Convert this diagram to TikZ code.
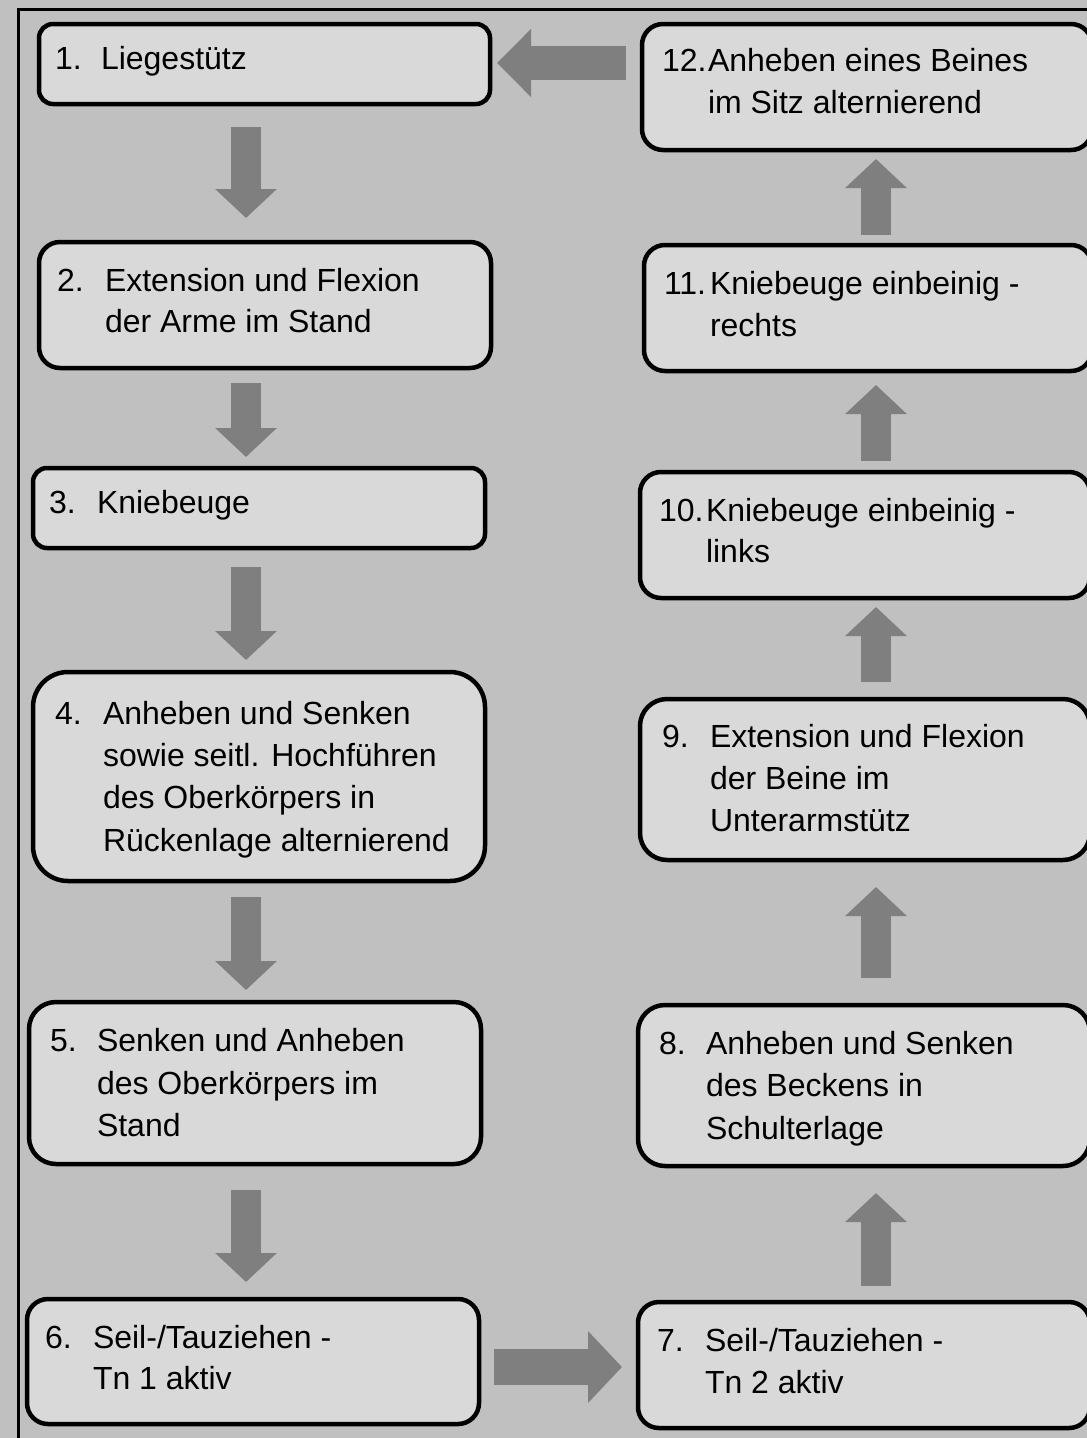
\documentclass[tikz,border=0pt]{standalone}
\usepackage{fontspec}
\setmainfont{Liberation Sans}
\usetikzlibrary{arrows.meta,fit}
\definecolor{bggray}{RGB}{192,192,192}
\definecolor{boxgray}{RGB}{217,217,217}
\definecolor{arrgray}{RGB}{127,127,127}
\tikzset{
  stepbox/.style={draw=black, line width=4.5pt, fill=boxgray, inner sep=0pt, outer sep=0pt},
  lbl/.style={anchor=base west, inner sep=0pt, outer sep=0pt, font=\fontsize{32}{40}\selectfont},
  vblock/.style={draw=arrgray, line width=30pt, line cap=butt, -{Triangle[width=60pt,length=29pt]}},
  hblockL/.style={draw=arrgray, line width=34pt, line cap=butt, -{Triangle[width=66pt,length=34pt]}},
  hblockR/.style={draw=arrgray, line width=36pt, line cap=butt, -{Triangle[width=70pt,length=34pt]}},
}
\begin{document}
\begin{tikzpicture}[x=1pt,y=-1pt]
\useasboundingbox (0,0) rectangle (1087,1438);
\clip (0,0) rectangle (1087,1438);
\fill[bggray] (0,0) rectangle (1087,1438);
\draw[line width=3pt] (18,9) rectangle (1110,1470);

% boxes
\node[stepbox, rounded corners=14pt, fit={(39,24) (490,104)}] (b1) {};
\node[stepbox, rounded corners=21pt, fit={(39,242) (491,368)}] (b2) {};
\node[stepbox, rounded corners=14pt, fit={(33,468) (485,548)}] (b3) {};
\node[stepbox, rounded corners=35pt, fit={(33,672) (485,881)}] (b4) {};
\node[stepbox, rounded corners=27pt, fit={(29,1002) (481,1164)}] (b5) {};
\node[stepbox, rounded corners=21pt, fit={(27,1299) (479,1424)}] (b6) {};
\node[stepbox, rounded corners=21pt, fit={(638,1302) (1090,1428)}] (b7) {};
\node[stepbox, rounded corners=27pt, fit={(638,1005) (1090,1166)}] (b8) {};
\node[stepbox, rounded corners=27pt, fit={(640,699) (1090,860)}] (b9) {};
\node[stepbox, rounded corners=21pt, fit={(640,472) (1090,598)}] (b10) {};
\node[stepbox, rounded corners=21pt, fit={(644,245) (1092,371)}] (b11) {};
\node[stepbox, rounded corners=21pt, fit={(642,24) (1092,150)}] (b12) {};

% texts
\node[lbl] (n1) at (55,69) {1.};
\node[lbl] (t1a) at (101,69) {Liegestütz};
\node[lbl] (n2) at (57,291) {2.};
\node[lbl] (t2a) at (105,291) {Extension und Flexion};
\node[lbl] (t2b) at (105,332) {der Arme im Stand};
\node[lbl] (n3) at (49,513) {3.};
\node[lbl] (t3a) at (97,513) {Kniebeuge};
\node[lbl] (n4) at (55,724) {4.};
\node[lbl] (t4a) at (103,724) {Anheben und Senken};
\node[lbl] (t4b) at (103,766) {sowie seitl. Hochführen};
\node[lbl] (t4c) at (103,808) {des Oberkörpers in};
\node[lbl] (t4d) at (103,851) {Rückenlage alternierend};
\node[lbl] (n5) at (50,1051) {5.};
\node[lbl] (t5a) at (97,1051) {Senken und Anheben};
\node[lbl] (t5b) at (97,1094) {des Oberkörpers im};
\node[lbl] (t5c) at (97,1136) {Stand};
\node[lbl] (n6) at (45,1348) {6.};
\node[lbl] (t6a) at (93,1348) {Seil-/Tauziehen -};
\node[lbl] (t6b) at (93,1389) {Tn 1 aktiv};
\node[lbl] (n7) at (657,1351) {7.};
\node[lbl] (t7a) at (705,1351) {Seil-/Tauziehen -};
\node[lbl] (t7b) at (705,1393) {Tn 2 aktiv};
\node[lbl] (n8) at (659,1054) {8.};
\node[lbl] (t8a) at (706,1054) {Anheben und Senken};
\node[lbl] (t8b) at (706,1096) {des Beckens in};
\node[lbl] (t8c) at (706,1139) {Schulterlage};
\node[lbl] (n9) at (662,747) {9.};
\node[lbl] (t9a) at (710,747) {Extension und Flexion};
\node[lbl] (t9b) at (710,789) {der Beine im};
\node[lbl] (t9c) at (710,831) {Unterarmstütz};
\node[lbl] (n10) at (659,521) {10.};
\node[lbl] (t10a) at (706,521) {Kniebeuge einbeinig -};
\node[lbl] (t10b) at (706,562) {links};
\node[lbl] (n11) at (664,294) {11.};
\node[lbl] (t11a) at (710,294) {Kniebeuge einbeinig -};
\node[lbl] (t11b) at (710,336) {rechts};
\node[lbl] (n12) at (662,71) {12.};
\node[lbl] (t12a) at (708,71) {Anheben eines Beines};
\node[lbl] (t12b) at (708,113) {im Sitz alternierend};

% connector columns / rows
\coordinate (colL) at (246,0);
\coordinate (colR) at (876,0);
\coordinate (rowA) at (0,63);
\coordinate (rowB) at (0,1367);

\draw[vblock, shorten <=23pt, shorten >=24pt] (b1.south -| colL) -- (b2.north -| colL);
\draw[vblock, shorten <=15pt, shorten >=11pt] (b2.south -| colL) -- (b3.north -| colL);
\draw[vblock, shorten <=19pt, shorten >=12pt] (b3.south -| colL) -- (b4.north -| colL);
\draw[vblock, shorten <=16pt, shorten >=12pt] (b4.south -| colL) -- (b5.north -| colL);
\draw[vblock, shorten <=26pt, shorten >=17pt] (b5.south -| colL) -- (b6.north -| colL);
\draw[hblockR, shorten <=15pt, shorten >=16pt] (b6.east |- rowB) -- (b7.west |- rowB);
\draw[vblock, shorten <=16pt, shorten >=27pt] (b7.north -| colR) -- (b8.south -| colR);
\draw[vblock, shorten <=27pt, shorten >=27pt] (b8.north -| colR) -- (b9.south -| colR);
\draw[vblock, shorten <=17pt, shorten >=9pt] (b9.north -| colR) -- (b10.south -| colR);
\draw[vblock, shorten <=11pt, shorten >=14pt] (b10.north -| colR) -- (b11.south -| colR);
\draw[vblock, shorten <=10pt, shorten >=9pt] (b11.north -| colR) -- (b12.south -| colR);
\draw[hblockL, shorten <=16pt, shorten >=7pt] (b12.west |- rowA) -- (b1.east |- rowA);
\end{tikzpicture}
\end{document}
